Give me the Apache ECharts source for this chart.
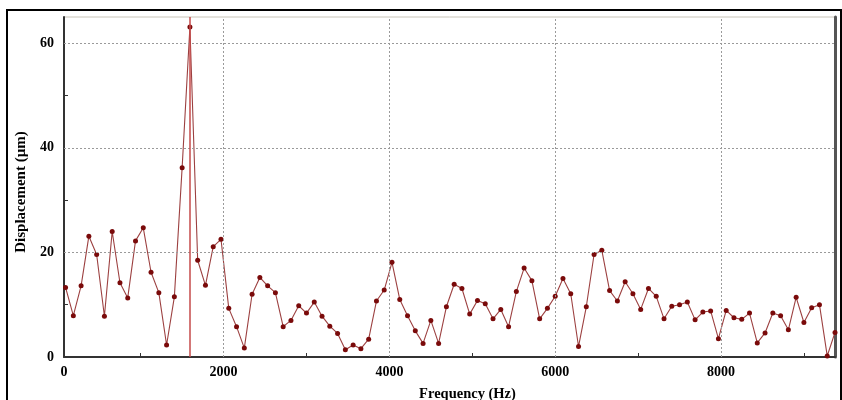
<!DOCTYPE html>
<html><head><meta charset="utf-8">
<script src="https://cdn.jsdelivr.net/npm/echarts@6/dist/echarts.min.js"></script>
<style>html,body{margin:0;padding:0;background:#fff}#c{width:842px;height:400px}</style>
</head><body><div id="c"></div>
<script>
// FFT bin width (Hz) of the spectrum
const binStep = 93.75;
// Displacement amplitude (µm) per frequency bin
const displacement = [
  13.3, 7.9, 13.6, 23.1, 19.6, 7.8, 24.0, 14.2, 11.3, 22.2,
  24.7, 16.2, 12.3, 2.3, 11.5, 36.2, 63.1, 18.5, 13.7, 21.1,
  22.5, 9.3, 5.8, 1.7, 12.0, 15.2, 13.6, 12.3, 5.8, 7.0,
  9.8, 8.4, 10.5, 7.8, 5.9, 4.5, 1.4, 2.3, 1.6, 3.4,
  10.7, 12.8, 18.1, 11.0, 7.9, 5.0, 2.6, 7.0, 2.6, 9.6,
  13.9, 13.1, 8.2, 10.8, 10.2, 7.3, 9.1, 5.8, 12.5, 17.0,
  14.6, 7.3, 9.3, 11.6, 15.0, 12.1, 2.0, 9.6, 19.6, 20.4,
  12.7, 10.7, 14.4, 12.1, 9.1, 13.1, 11.6, 7.3, 9.7, 10.0,
  10.5, 7.1, 8.6, 8.8, 3.5, 8.9, 7.5, 7.2, 8.4, 2.7,
  4.6, 8.4, 7.9, 5.2, 11.4, 6.6, 9.4, 10.0, 0.2, 4.7
];
const frequencies = displacement.map((_, i) => (i + 1) * binStep);

const xMin = 75, xMax = 9375;
const xTickValues = [75, 2000, 4000, 6000, 8000];
const xTickLabels = ['0', '2000', '4000', '6000', '8000'];
const xMinorTicks = [1000, 3000, 5000, 7000, 9000];
const xGrid = [2000, 4000, 6000, 8000];

const yMin = 0, yMax = 65;
const yTickValues = [0, 20, 40, 60];
const yMinorTicks = [10, 30, 50];
const yGrid = [20, 40, 60];

let peakIdx = 0;
displacement.forEach((v, i) => { if (v > displacement[peakIdx]) peakIdx = i; });
const peakFreq = frequencies[peakIdx];

const font = 'Liberation Serif, Times New Roman, serif';
const chart = echarts.init(document.getElementById('c'), null, {renderer: 'canvas'});

const gridStyle = {color: '#9a9a9a', width: 1, type: [2, 2]};
const gridLines = xGrid.map(v => ({xAxis: v, lineStyle: gridStyle}))
  .concat(yGrid.map(v => ({yAxis: v, lineStyle: gridStyle})));

chart.setOption({
  animation: false,
  backgroundColor: '#fff',
  grid: {left: 64, right: 7, top: 17, bottom: 43, containLabel: false, outerBoundsMode: 'none',
    show: true, borderColor: '#c8c4b8', borderWidth: 1, backgroundColor: 'transparent'},
  graphic: [{
    type: 'rect', shape: {x: 7, y: 10, width: 834, height: 400},
    style: {fill: 'none', stroke: '#000', lineWidth: 2}, silent: true, z: 100
  }],
  xAxis: {
    type: 'value', min: xMin, max: xMax,
    name: 'Frequency (Hz)', nameLocation: 'middle', nameGap: 30,
    nameTextStyle: {fontFamily: font, fontWeight: 'bold', fontSize: 14.5, color: '#000', padding: [0, 0, 0, 36]},
    axisLine: {show: true, lineStyle: {color: '#333', width: 2}},
    axisTick: {show: true, inside: true, length: 4, customValues: xMinorTicks, lineStyle: {color: '#333'}},
    axisLabel: {customValues: xTickValues, margin: 8, fontFamily: font, fontWeight: 'bold', fontSize: 14, color: '#000',
      formatter: v => { const i = xTickValues.indexOf(v); return i >= 0 ? xTickLabels[i] : String(v); }},
    splitLine: {show: false}
  },
  yAxis: [{
    type: 'value', min: yMin, max: yMax,
    name: 'Displacement (µm)', nameLocation: 'middle', nameGap: 24, nameRotate: 90,
    nameTextStyle: {fontFamily: font, fontWeight: 'bold', fontSize: 15, color: '#000', padding: [0, 10, 0, 0]},
    axisLine: {show: true, lineStyle: {color: '#333', width: 2}},
    axisTick: {show: true, inside: true, length: 4, customValues: yMinorTicks, lineStyle: {color: '#333'}},
    axisLabel: {customValues: yTickValues, margin: 10, fontFamily: font, fontWeight: 'bold', fontSize: 14, color: '#000'},
    splitLine: {show: false}
  }, {
    type: 'value', min: yMin, max: yMax, position: 'right',
    axisLine: {show: true, lineStyle: {color: '#555', width: 3}},
    axisTick: {show: false}, axisLabel: {show: false}, splitLine: {show: false}
  }],
  series: [{
    type: 'line', data: [], silent: true, z: 1,
    markLine: {silent: true, symbol: 'none', label: {show: false}, animation: false, data: gridLines}
  }, {
    type: 'line', z: 3,
    data: frequencies.map((f, i) => [f, displacement[i]]),
    symbol: 'circle', symbolSize: 5, showSymbol: true,
    itemStyle: {color: '#7a0a0a'},
    lineStyle: {color: '#9c4040', width: 1.1},
    markLine: {silent: true, symbol: 'none', label: {show: false}, animation: false,
      data: [{xAxis: peakFreq, lineStyle: {color: '#c44a4a', width: 1.5, type: 'solid'}}]}
  }]
});
</script>
</body></html>
